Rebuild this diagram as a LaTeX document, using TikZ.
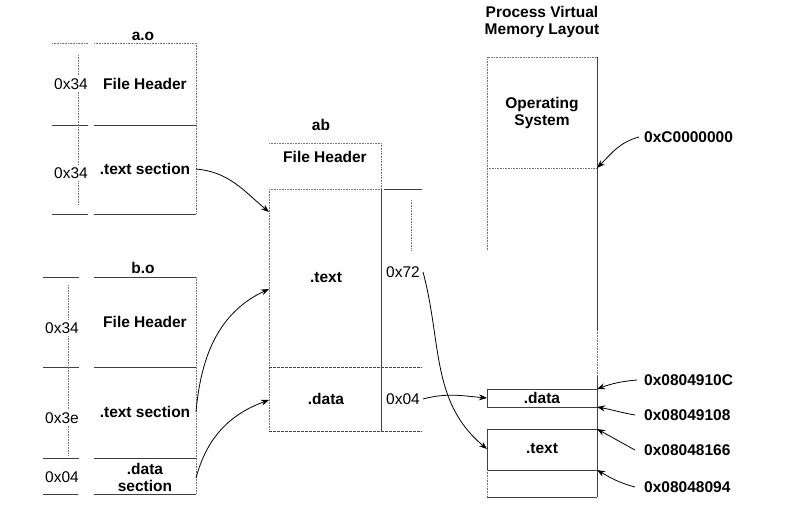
\documentclass[tikz,border=0pt]{standalone}
\usepackage{fontspec}
\setmainfont{Liberation Sans}
\usetikzlibrary{arrows.meta,positioning}
\tikzset{
  lbl/.style={font=\bfseries\fontsize{15.5}{17}\selectfont, inner sep=1pt, align=center},
  hex/.style={font=\fontsize{15.5}{17}\selectfont, inner sep=3pt, fill=white},
  rule/.style={draw=black!75, line width=0.6pt},
  dotrule/.style={draw=black!55, densely dotted, line width=0.6pt},
  ptr/.style={-{Stealth[length=8pt,width=6pt]}, line width=0.8pt},
}
\begin{document}
\begin{tikzpicture}[x=1pt,y=-1pt]
\useasboundingbox (0,0) rectangle (799,512);

\node[lbl] (aotitle) at (143,36) {a.o};
\draw[dotrule] (52,43) -- (88,43) (94,43) -- (196,43);
\draw[rule] (52,125) -- (88,125) (94,125) -- (196,125);
\draw[rule] (52,214) -- (88,214) (94,214) -- (196,214);
\draw[dotrule] (78,55) -- (78,205) (196,43) -- (196,214);
\node[hex] (aohdrsize) at (71,84) {0x34};
\node[lbl] (aohdr) at (145,84) {File Header};
\node[hex] (aotxtsize) at (71,173) {0x34};
\node[lbl] (aotxt) at (145,169) {.text section};
\coordinate (aotxtout) at (196,169);

\node[lbl] (botitle) at (143,268) {b.o};
\draw[rule] (43,277) -- (79,277) (94,277) -- (196,277);
\draw[rule] (43,367) -- (79,367) (94,367) -- (196,367);
\draw[rule] (43,458) -- (79,458) (94,458) -- (196,458);
\draw[rule] (43,494) -- (78,494) (94,494) -- (196,494);
\draw[dotrule] (68,285) -- (68,455) (196,277) -- (196,494);
\node[hex] (bohdrsize) at (62,328) {0x34};
\node[lbl] (bohdr) at (145,322) {File Header};
\node[hex] (botxtsize) at (62,418) {0x3e};
\node[lbl] (botxt) at (145,412) {.text section};
\node[hex] (bodatsize) at (62,477) {0x04};
\node[lbl] (bodat) at (145,477) {.data\\section};
\coordinate (botxtout) at (196,412);
\coordinate (bodatout) at (196,478);

\node[lbl] (abtitle) at (321,125) {ab};
\draw[dotrule] (269,143) -- (381,143) -- (381,189);
\node[lbl] (abhdr) at (325,157) {File Header};
\draw[dotrule] (269,189) -- (381,189) (269,189) -- (269,431);
\draw[rule] (384,189) -- (422,189);
\draw[rule] (381,189) -- (381,431);
\draw[dotrule] (411,200) -- (411,250);
\draw[rule, dashed, dash pattern=on 3pt off 1pt] (269,367) -- (422,367) (269,431) -- (422,431);
\node[lbl] (abtxt) at (326,278) {.text};
\node[hex] (abtxtsize) at (403,272) {0x72};
\node[lbl] (abdat) at (326,399) {.data};
\node[hex] (abdatsize) at (403,399) {0x04};
\coordinate (abtxtin) at (269,212);
\coordinate (abtxtin2) at (269,289);
\coordinate (abdatin) at (269,400);

\node[lbl] (vmtitle) at (542,22) {Process Virtual\\Memory Layout};
\draw[dotrule] (597,57) -- (487,57) -- (487,250) (487,168) -- (597,168);
\draw[rule] (597,57) -- (597,330) (597,377) -- (597,497);
\draw[dotrule] (597,330) -- (597,377);
\node[lbl] (vmos) at (542,113) {Operating\\System};
\draw[rule] (487,389) rectangle (597,407);
\node[lbl] (vmdat) at (542,398) {.data};
\draw[rule] (487,429) rectangle (597,470);
\node[lbl] (vmtxt) at (542,449) {.text};
\draw[rule] (487,497) -- (597,497);
\draw[dotrule] (487,470) -- (487,497);
\coordinate (vmdatin) at (487,398);
\coordinate (vmtxtin) at (487,449);
\coordinate (vmostop) at (597,168);
\coordinate (vmdattop) at (597,389);
\coordinate (vmdatbot) at (597,407);
\coordinate (vmtxttop) at (597,429);
\coordinate (vmtxtbot) at (597,470);

\node[lbl, anchor=west] (adros) at (643,137) {0xC0000000};
\node[lbl, anchor=west] (adrdattop) at (643,380) {0x0804910C};
\node[lbl, anchor=west] (adrdatbot) at (643,415) {0x08049108};
\node[lbl, anchor=west] (adrtxttop) at (643,450) {0x08048166};
\node[lbl, anchor=west] (adrtxtbot) at (643,487) {0x08048094};

\draw[ptr] (aotxtout) to[out=-5,in=140] (abtxtin);
\draw[ptr] (botxtout) to[out=85,in=205] (abtxtin2);
\draw[ptr] (bodatout) to[out=75,in=200] (abdatin);
\draw[ptr] (abtxtsize.east) to[out=-75,in=140] (vmtxtin);
\draw[ptr] (abdatsize.east) to[out=15,in=175] (vmdatin);
\draw[ptr] ([xshift=-4pt]adros.west) to[out=195,in=45] (vmostop);
\draw[ptr] ([xshift=-6pt]adrdattop.west) to[out=185,in=20] (vmdattop);
\draw[ptr] ([xshift=-8pt]adrdatbot.west) to[out=170,in=-10] (vmdatbot);
\draw[ptr] ([xshift=-8pt]adrtxttop.west) -- (vmtxttop);
\draw[ptr] ([xshift=-8pt]adrtxtbot.west) to[out=165,in=-30] (vmtxtbot);
\end{tikzpicture}
\end{document}
